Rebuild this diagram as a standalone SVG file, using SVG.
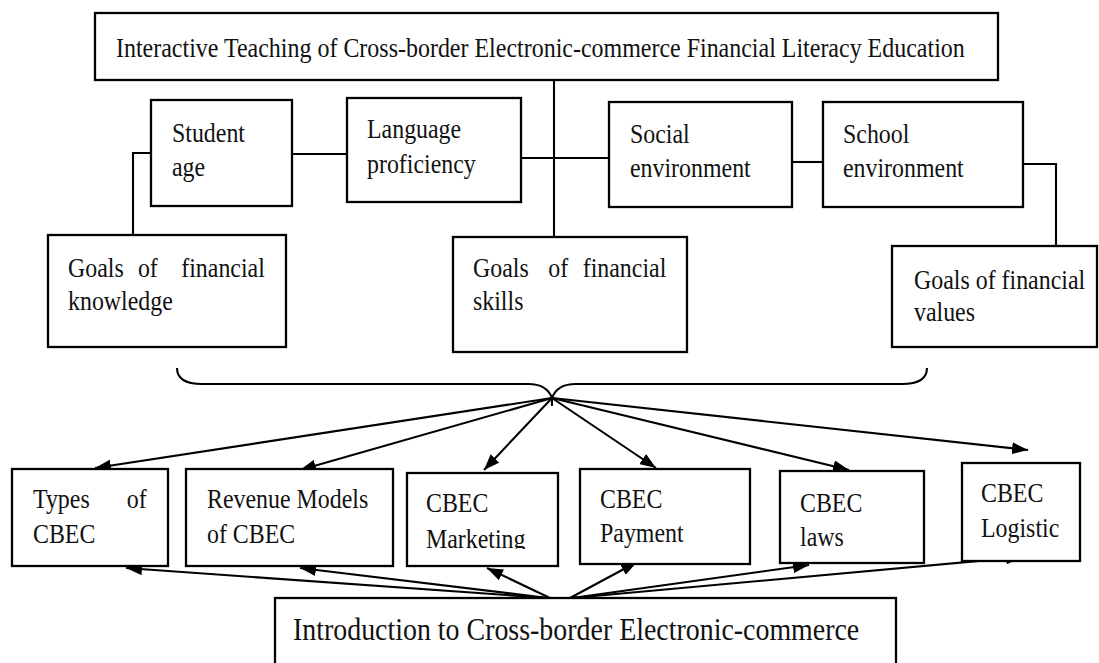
<svg xmlns="http://www.w3.org/2000/svg" width="1099" height="663" viewBox="0 0 1099 663">
<style>
.box{fill:#fff;stroke:#000;stroke-width:2.3}
.t{font-family:'Liberation Serif','DejaVu Serif',serif;font-size:27px;fill:#111}
.big{font-size:31px}
.ln{fill:none;stroke:#000;stroke-width:2.1}
.ar{fill:none;stroke:#000;stroke-width:2.1;marker-end:url(#ah)}
</style>
<defs>
<marker id="ah" viewBox="0 0 16 12" refX="16" refY="6" markerWidth="16" markerHeight="12" markerUnits="userSpaceOnUse" orient="auto">
<path d="M0,0 L16,6 L0,12 Z" fill="#000"/>
</marker>
<clipPath id="mk"><rect x="400" y="470" width="160" height="79"/></clipPath>
</defs>
<rect width="1099" height="663" fill="#fff"/>

<g id="connectors">
<polyline class="ln" points="554,80 554,237"/>
<polyline class="ln" points="151,153 133,153 133,235"/>
<polyline class="ln" points="292,154 347,154"/>
<polyline class="ln" points="521,158 609,158"/>
<polyline class="ln" points="792,162 823,162"/>
<polyline class="ln" points="1023,164 1056,164 1056,246"/>
<path class="ln" d="M177,368 Q177,384 202,384 L528,384 Q547,384 552,398 Q557,384 576,384 L902,384 Q927,384 927,368"/>
<line class="ln" x1="552" y1="398" x2="552" y2="406"/>
<line class="ar" x1="552" y1="398" x2="95" y2="468"/>
<line class="ar" x1="552" y1="398" x2="300" y2="470"/>
<line class="ar" x1="552" y1="398" x2="484" y2="470"/>
<line class="ar" x1="552" y1="398" x2="656" y2="468"/>
<line class="ar" x1="552" y1="398" x2="849" y2="470"/>
<line class="ar" x1="552" y1="398" x2="1028" y2="450"/>
<line class="ar" x1="548" y1="598" x2="126" y2="568"/>
<line class="ar" x1="548" y1="598" x2="300" y2="568"/>
<line class="ar" x1="550" y1="598" x2="487" y2="568"/>
<line class="ar" x1="570" y1="598" x2="637" y2="562"/>
<line class="ar" x1="572" y1="598" x2="809" y2="565"/>
<line class="ar" x1="572" y1="598" x2="1022" y2="557"/>
</g>

<g id="title">
<rect class="box" x="95" y="13" width="903" height="67"/>
<text class="t" transform="translate(116,57) scale(0.888,1)">Interactive Teaching of Cross-border Electronic-commerce Financial Literacy Education</text>
</g>

<g id="student-age">
<rect class="box" x="151" y="100" width="141" height="106"/>
<text class="t" transform="translate(172,142) scale(0.885,1)">Student</text>
<text class="t" transform="translate(172,176) scale(0.885,1)">age</text>
</g>

<g id="language">
<rect class="box" x="347" y="98" width="174" height="104"/>
<text class="t" transform="translate(367,138) scale(0.885,1)">Language</text>
<text class="t" transform="translate(367,173) scale(0.885,1)">proficiency</text>
</g>

<g id="social">
<rect class="box" x="609" y="102" width="183" height="105"/>
<text class="t" transform="translate(630,143) scale(0.885,1)">Social</text>
<text class="t" transform="translate(630,177) scale(0.885,1)">environment</text>
</g>

<g id="school">
<rect class="box" x="823" y="102" width="200" height="105"/>
<text class="t" transform="translate(843,143) scale(0.885,1)">School</text>
<text class="t" transform="translate(843,177) scale(0.885,1)">environment</text>
</g>

<g id="goals-knowledge">
<rect class="box" x="48" y="235" width="238" height="112"/>
<text class="t" transform="translate(68,277) scale(0.885,1)"><tspan x="0">Goals</tspan><tspan x="79">of</tspan><tspan x="128">financial</tspan></text>
<text class="t" transform="translate(68,310) scale(0.885,1)">knowledge</text>
</g>

<g id="goals-skills">
<rect class="box" x="453" y="237" width="234" height="115"/>
<text class="t" transform="translate(473,277) scale(0.885,1)"><tspan x="0">Goals</tspan><tspan x="85">of</tspan><tspan x="124">financial</tspan></text>
<text class="t" transform="translate(473,310) scale(0.885,1)">skills</text>
</g>

<g id="goals-values">
<rect class="box" x="892" y="246" width="205" height="101"/>
<text class="t" transform="translate(914,289) scale(0.885,1)">Goals of financial</text>
<text class="t" transform="translate(914,321) scale(0.885,1)">values</text>
</g>

<g id="types">
<rect class="box" x="12" y="469" width="156" height="97"/>
<text class="t" transform="translate(33,508) scale(0.885,1)"><tspan x="0">Types</tspan><tspan x="106">of</tspan></text>
<text class="t" transform="translate(33,543) scale(0.885,1)">CBEC</text>
</g>

<g id="revenue">
<rect class="box" x="186" y="469" width="207" height="97"/>
<text class="t" transform="translate(207,508) scale(0.885,1)">Revenue Models</text>
<text class="t" transform="translate(207,543) scale(0.885,1)">of CBEC</text>
</g>

<g id="marketing">
<rect class="box" x="407" y="473" width="151" height="93"/>
<g clip-path="url(#mk)">
<text class="t" transform="translate(426,512) scale(0.885,1)">CBEC</text>
<text class="t" transform="translate(426,548) scale(0.885,1)">Marketing</text>
</g>
</g>

<g id="payment">
<rect class="box" x="580" y="469" width="170" height="95"/>
<text class="t" transform="translate(600,508) scale(0.885,1)">CBEC</text>
<text class="t" transform="translate(600,542) scale(0.885,1)">Payment</text>
</g>

<g id="laws">
<rect class="box" x="780" y="471" width="144" height="92"/>
<text class="t" transform="translate(800,512) scale(0.885,1)">CBEC</text>
<text class="t" transform="translate(800,546) scale(0.885,1)">laws</text>
</g>

<g id="logistic">
<rect class="box" x="962" y="463" width="118" height="98"/>
<text class="t" transform="translate(981,502) scale(0.885,1)">CBEC</text>
<text class="t" transform="translate(981,537) scale(0.885,1)">Logistic</text>
</g>

<g id="intro">
<rect class="box" x="275" y="598" width="621" height="80"/>
<text class="t big" transform="translate(293,640) scale(0.9,1)">Introduction to Cross-border Electronic-commerce</text>
</g>
</svg>
